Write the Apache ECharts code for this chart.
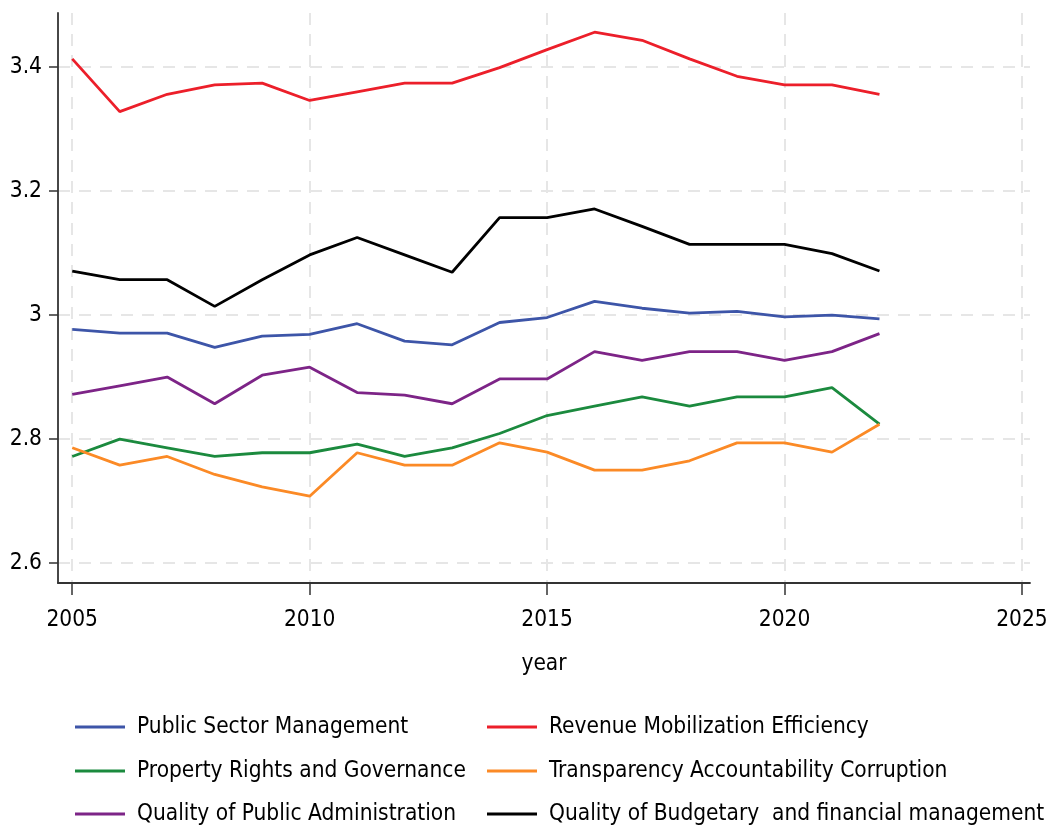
<!DOCTYPE html>
<html>
<head>
<meta charset="utf-8">
<script src="https://cdn.jsdelivr.net/npm/echarts@6/dist/echarts.min.js"></script>
<style>
  html, body { margin: 0; padding: 0; background: #fff; }
  #main { width: 1051px; height: 826px; }
</style>
</head>
<body>
<div id="main"></div>
<script>
var years = [2005, 2006, 2007, 2008, 2009, 2010, 2011, 2012, 2013, 2014, 2015, 2016, 2017, 2018, 2019, 2020, 2021, 2022];
var xTicks = [2005, 2010, 2015, 2020, 2025];
var yTicks = [2.6, 2.8, 3.0, 3.2, 3.4];

var publicSector = [2.977, 2.971, 2.971, 2.948, 2.966, 2.969, 2.986, 2.958, 2.952, 2.988, 2.996, 3.022, 3.011, 3.003, 3.006, 2.997, 3.000, 2.994];
var revenueMob = [3.413, 3.328, 3.356, 3.371, 3.374, 3.346, 3.360, 3.374, 3.374, 3.399, 3.428, 3.456, 3.443, 3.413, 3.385, 3.371, 3.371, 3.356];
var propertyRights = [2.772, 2.800, 2.786, 2.772, 2.778, 2.778, 2.792, 2.772, 2.786, 2.809, 2.838, 2.853, 2.868, 2.853, 2.868, 2.868, 2.883, 2.824];
var transparency = [2.786, 2.758, 2.772, 2.743, 2.723, 2.708, 2.778, 2.758, 2.758, 2.794, 2.779, 2.750, 2.750, 2.765, 2.794, 2.794, 2.779, 2.824];
var publicAdmin = [2.872, 2.886, 2.900, 2.857, 2.903, 2.916, 2.875, 2.871, 2.857, 2.897, 2.897, 2.941, 2.927, 2.941, 2.941, 2.927, 2.941, 2.970];
var budgetary = [3.071, 3.057, 3.057, 3.014, 3.057, 3.097, 3.125, 3.097, 3.069, 3.157, 3.157, 3.171, 3.143, 3.114, 3.114, 3.114, 3.099, 3.071];

var names = [
  'Public Sector Management',
  'Revenue Mobilization Efficiency',
  'Property Rights and Governance',
  'Transparency Accountability Corruption',
  'Quality of Public Administration',
  'Quality of Budgetary  and financial management'
];
var colors = ['#3d55a8', '#ec1f2a', '#1b8a3e', '#fb8a26', '#7d2487', '#000000'];
var values = [publicSector, revenueMob, propertyRights, transparency, publicAdmin, budgetary];

var font = '"DejaVu Sans Condensed", "Liberation Sans Narrow", sans-serif';

function pairs(arr) {
  return years.map(function (y, i) { return [y, arr[i]]; });
}

var myChart = echarts.init(document.getElementById('main'), null, { renderer: 'canvas' });

var series = names.map(function (n, i) {
  return {
    name: n,
    type: 'line',
    data: pairs(values[i]),
    symbol: 'none',
    z: i === 5 ? 3 : 2,
    lineStyle: { color: colors[i], width: 2.8 },
    itemStyle: { color: colors[i] }
  };
});

// one legend per entry, two columns of three rows
var rowCenters = [727, 771, 814];
var colLefts = [75, 487];
var legends = names.map(function (n, i) {
  return {
    left: colLefts[i % 2],
    top: rowCenters[Math.floor(i / 2)] - 15,
    data: [n],
    itemWidth: 50,
    itemHeight: 3,
    icon: 'rect',
    padding: 0,
    textStyle: { fontFamily: font, fontSize: 22.5, color: '#000', lineHeight: 30, padding: [0, 0, 0, 7] }
  };
});

var option = {
  animation: false,
  backgroundColor: '#fff',
  color: colors,
  grid: { left: 58, right: 21, top: 13, bottom: 243 },
  legend: legends,
  xAxis: {
    type: 'value',
    min: 2004.7,
    max: 2025.17,
    name: 'year',
    nameLocation: 'middle',
    nameGap: 70,
    nameTextStyle: { fontFamily: font, fontSize: 22.5, color: '#000' },
    axisLine: { show: true, onZero: false, lineStyle: { color: '#333', width: 1.8 } },
    axisTick: { show: true, length: 12, customValues: xTicks, lineStyle: { color: '#333', width: 1.5 } },
    axisLabel: {
      customValues: xTicks,
      margin: 26,
      fontFamily: font,
      fontSize: 22.5,
      color: '#000',
      formatter: function (v) { return String(v); }
    },
    splitLine: { show: true, lineStyle: { color: '#e6e6e6', width: 2, type: [12, 9] } }
  },
  yAxis: {
    type: 'value',
    min: 2.568,
    max: 3.487,
    axisLine: { show: true, onZero: false, lineStyle: { color: '#333', width: 1.8 } },
    axisTick: { show: true, length: 9, customValues: yTicks, lineStyle: { color: '#333', width: 1.5 } },
    axisLabel: {
      customValues: yTicks,
      margin: 16,
      fontFamily: font,
      fontSize: 22.5,
      color: '#000',
      formatter: function (v) { return String(Number(v.toFixed(1))); }
    },
    splitLine: { show: true, lineStyle: { color: '#e6e6e6', width: 2, type: [12, 9] } }
  },
  series: series
};

if (option && typeof option === 'object') {
  myChart.setOption(option);
}

window.addEventListener('resize', myChart.resize);
</script>
</body>
</html>
